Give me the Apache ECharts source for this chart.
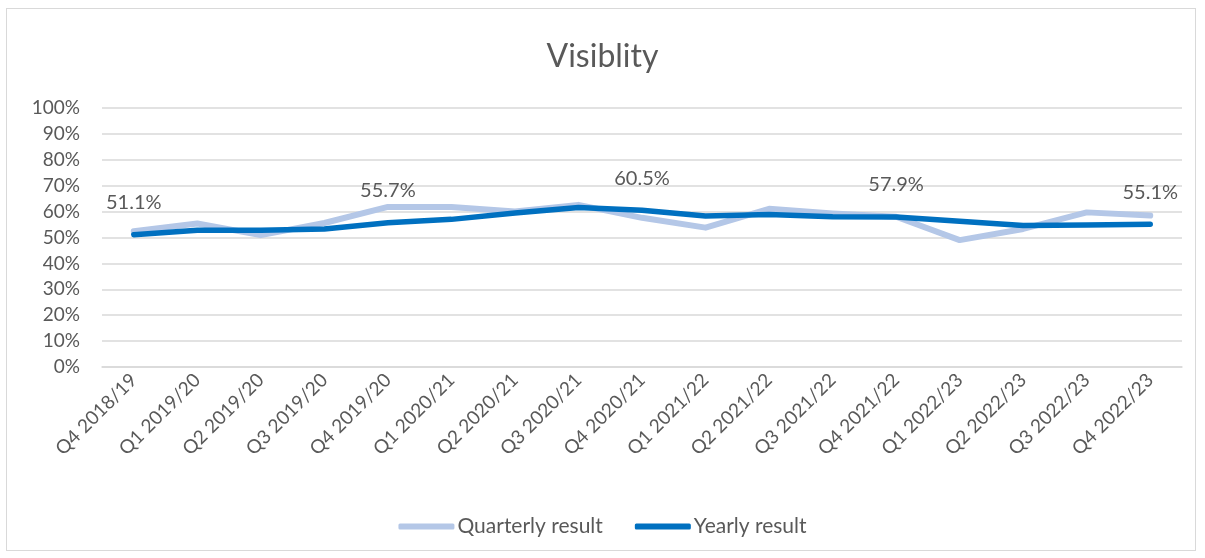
<!DOCTYPE html>
<html>
<head>
<meta charset="utf-8">
<script src="https://cdn.jsdelivr.net/npm/echarts@6/dist/echarts.min.js"></script>
<style>
html,body{margin:0;padding:0;background:#fff;}
#frame{position:absolute;left:6px;top:8px;width:1190px;height:543px;border:1px solid #d9d9d9;box-sizing:border-box;}
#chart{position:absolute;left:0;top:0;width:1205px;height:558px;}
</style>
</head>
<body>
<div id="frame"></div>
<div id="chart"></div>
<script>
const categories = ["Q4 2018/19","Q1 2019/20","Q2 2019/20","Q3 2019/20","Q4 2019/20","Q1 2020/21","Q2 2020/21","Q3 2020/21","Q4 2020/21","Q1 2021/22","Q2 2021/22","Q3 2021/22","Q4 2021/22","Q1 2022/23","Q2 2022/23","Q3 2022/23","Q4 2022/23"];
const quarterly = [52.4, 55.4, 50.9, 55.6, 61.8, 61.8, 60.0, 62.6, 57.6, 53.8, 61.1, 59.3, 58.0, 49.0, 53.3, 59.7, 58.5];
const yearly = [51.1, 52.8, 52.8, 53.3, 55.7, 57.0, 59.5, 61.6, 60.5, 58.3, 58.9, 58.0, 57.9, 56.3, 54.6, 54.8, 55.1];
const yearlyLabelIdx = [0, 4, 8, 12, 16];
const yTicks = { min: 0, max: 100, interval: 10 };

const FONT = 'Lato, "Open Sans", sans-serif';
const TXT = '#595959';

const chart = echarts.init(document.getElementById('chart'), null, {renderer: 'canvas'});
chart.setOption({
  animation: false,
  backgroundColor: 'transparent',
  title: {
    text: 'Visiblity',
    left: 'center',
    top: 36,
    textStyle: {color: TXT, fontFamily: FONT, fontSize: 32, fontWeight: 'normal'}
  },
  grid: {left: 102, right: 23, top: 108, bottom: 191, containLabel: false},
  legend: {
    bottom: 16,
    left: 'center',
    itemWidth: 56,
    itemHeight: 6,
    itemGap: 32,
    icon: 'roundRect',
    textStyle: {color: TXT, fontFamily: FONT, fontSize: 21, padding: [0, 0, 0, -2]},
    data: ['Quarterly result', 'Yearly result']
  },
  xAxis: {
    type: 'category',
    data: categories,
    boundaryGap: true,
    axisLine: {show: true, lineStyle: {color: '#d9d9d9', width: 1.5}},
    axisTick: {show: false},
    axisLabel: {rotate: 45, color: TXT, fontFamily: FONT, fontSize: 19, margin: 10, interval: 0}
  },
  yAxis: {
    type: 'value',
    min: yTicks.min, max: yTicks.max, interval: yTicks.interval,
    axisLine: {show: false},
    axisTick: {show: false},
    axisLabel: {color: TXT, fontFamily: FONT, fontSize: 19, margin: 22, formatter: '{value}%'},
    splitLine: {lineStyle: {color: '#d9d9d9', width: 1.5}}
  },
  series: [
    {
      name: 'Quarterly result',
      type: 'line',
      data: quarterly,
      showSymbol: false,
      symbol: 'none',
      lineStyle: {color: '#b4c7e7', width: 6, cap: 'round', join: 'round'},
      itemStyle: {color: '#b4c7e7'},
      z: 2
    },
    {
      name: 'Yearly result',
      type: 'line',
      data: yearly.map((v, i) => ({
        value: v,
        label: {show: yearlyLabelIdx.includes(i)}
      })),
      showSymbol: true,
      showAllSymbol: true,
      symbol: 'circle',
      symbolSize: 0.01,
      lineStyle: {color: '#0070c0', width: 5.5, cap: 'round', join: 'round'},
      itemStyle: {color: '#0070c0'},
      label: {
        show: false,
        position: 'top',
        distance: 22,
        color: TXT,
        fontFamily: FONT,
        fontSize: 20,
        formatter: p => p.value.toFixed(1) + '%'
      },
      z: 3
    }
  ]
});
</script>
</body>
</html>
